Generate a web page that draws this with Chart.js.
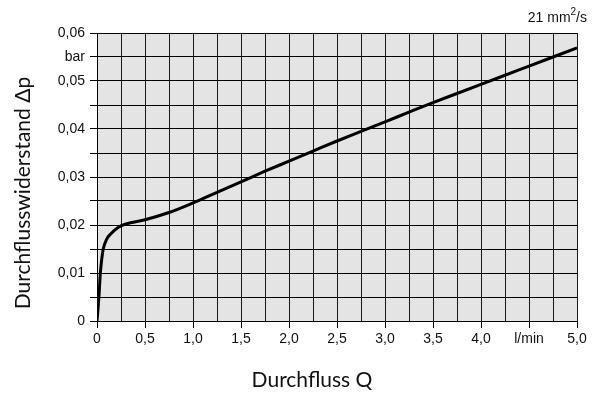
<!DOCTYPE html>
<html lang="de">
<head>
<meta charset="utf-8">
<title>Durchflusswiderstand</title>
<script src="https://cdn.jsdelivr.net/npm/chart.js@4/dist/chart.umd.min.js"></script>
<style>
    html, body { margin: 0; padding: 0; background: #fff; }
    #wrap { width: 596px; height: 394px; position: relative; }
</style>
</head>
<body>
<div id="wrap"><canvas id="flowChart"></canvas></div>
<script>
// Durchfluss Q in l/min
const flowQ = [0, 0.02, 0.035, 0.05, 0.065, 0.1, 0.15, 0.22, 0.3, 0.5, 0.75, 1.0, 1.25, 1.5,
    1.75, 2.0, 2.25, 2.5, 2.75, 3.0, 3.25, 3.5, 3.75, 4.0, 4.25, 4.5, 4.75, 5.0];
// Durchflusswiderstand in bar
const deltaP = [0, 0.005, 0.01, 0.013, 0.015, 0.017, 0.0183, 0.0195, 0.0202, 0.0211, 0.0226, 0.0246, 0.0268, 0.029,
    0.0312, 0.0333, 0.0354, 0.0375, 0.0395, 0.0415, 0.0435, 0.0455, 0.0474, 0.0493, 0.0512, 0.0531, 0.055, 0.0569];

const xTickLabels = ['0', '', '0,5', '', '1,0', '', '1,5', '', '2,0', '', '2,5', '', '3,0', '', '3,5', '', '4,0', '', 'l/min', '', '5,0'];
const yTickLabels = ['0', '', '0,01', '', '0,02', '', '0,03', '', '0,04', '', '0,05', 'bar', '0,06'];

const viscosityText = ['21 mm', '2', '/s'];
const xTitle = 'Durchfluss Q';
const yTitle = 'Durchflusswiderstand \u0394p';

const titleFont = '21px Lato, "DejaVu Sans", sans-serif';
const tickFont = { family: '"Liberation Sans", Arial, sans-serif', size: 14 };

// grey plot background behind the grid
const plotBackground = {
    id: 'plotBackground',
    beforeDraw(chart) {
        const { ctx, chartArea: a } = chart;
        ctx.save();
        ctx.fillStyle = '#e4e4e4';
        ctx.fillRect(a.left, a.top, a.right - a.left, a.bottom - a.top);
        ctx.restore();
    }
};

// axis captions and the viscosity note
const captions = {
    id: 'captions',
    afterDraw(chart) {
        const { ctx } = chart;
        ctx.save();
        ctx.fillStyle = '#111';
        ctx.font = titleFont;
        ctx.textAlign = 'center';
        ctx.textBaseline = 'alphabetic';
        ctx.fillText(xTitle, 312, 387);

        ctx.translate(30, 193);
        ctx.rotate(-Math.PI / 2);
        ctx.fillText(yTitle, 0, 0);
        ctx.restore();

        ctx.save();
        ctx.fillStyle = '#111';
        ctx.textBaseline = 'alphabetic';
        ctx.textAlign = 'left';
        const small = '10px "Liberation Sans", Arial, sans-serif';
        const normal = '14px "Liberation Sans", Arial, sans-serif';
        ctx.font = normal;
        const w1 = ctx.measureText(viscosityText[0]).width;
        const w3 = ctx.measureText(viscosityText[2]).width;
        ctx.font = small;
        const w2 = ctx.measureText(viscosityText[1]).width;
        let x = 587 - (w1 + w2 + w3);
        ctx.font = normal;
        ctx.fillText(viscosityText[0], x, 22);
        x += w1;
        ctx.font = small;
        ctx.fillText(viscosityText[1], x, 15);
        x += w2;
        ctx.font = normal;
        ctx.fillText(viscosityText[2], x, 22);
        ctx.restore();
    }
};

const points = flowQ.map((q, i) => ({ x: q, y: deltaP[i] }));

new Chart(document.getElementById('flowChart'), {
    type: 'line',
    data: {
        datasets: [{
            data: points,
            borderColor: '#000',
            borderWidth: 3,
            pointRadius: 0,
            cubicInterpolationMode: 'monotone',
            fill: false
        }]
    },
    options: {
        responsive: true,
        maintainAspectRatio: false,
        animation: false,
        devicePixelRatio: 1,
        layout: { padding: { top: 33, right: 19, left: 0, bottom: 0 } },
        plugins: {
            legend: { display: false },
            tooltip: { enabled: false }
        },
        scales: {
            x: {
                type: 'linear',
                min: 0,
                max: 5,
                afterFit(scale) { scale.height = 73; },
                ticks: {
                    stepSize: 0.25,
                    autoSkip: false,
                    maxRotation: 0,
                    padding: 3,
                    color: '#111',
                    font: tickFont,
                    callback: (value, index) => xTickLabels[index]
                },
                grid: {
                    color: '#1a1a1a',
                    lineWidth: 1,
                    tickLength: 7,
                    tickColor: (ctx) => (ctx.index % 2 === 0 ? '#000' : 'rgba(0,0,0,0)')
                },
                border: { color: '#000', width: 1 }
            },
            y: {
                min: 0,
                max: 0.06,
                afterFit(scale) { scale.width = 97; },
                ticks: {
                    stepSize: 0.005,
                    autoSkip: false,
                    padding: 5,
                    color: '#111',
                    font: tickFont,
                    callback: (value, index) => yTickLabels[index]
                },
                grid: {
                    color: '#000',
                    lineWidth: 1,
                    tickLength: 7,
                    tickColor: '#000'
                },
                border: { color: '#000', width: 1 }
            }
        }
    },
    plugins: [plotBackground, captions]
});
</script>
</body>
</html>
